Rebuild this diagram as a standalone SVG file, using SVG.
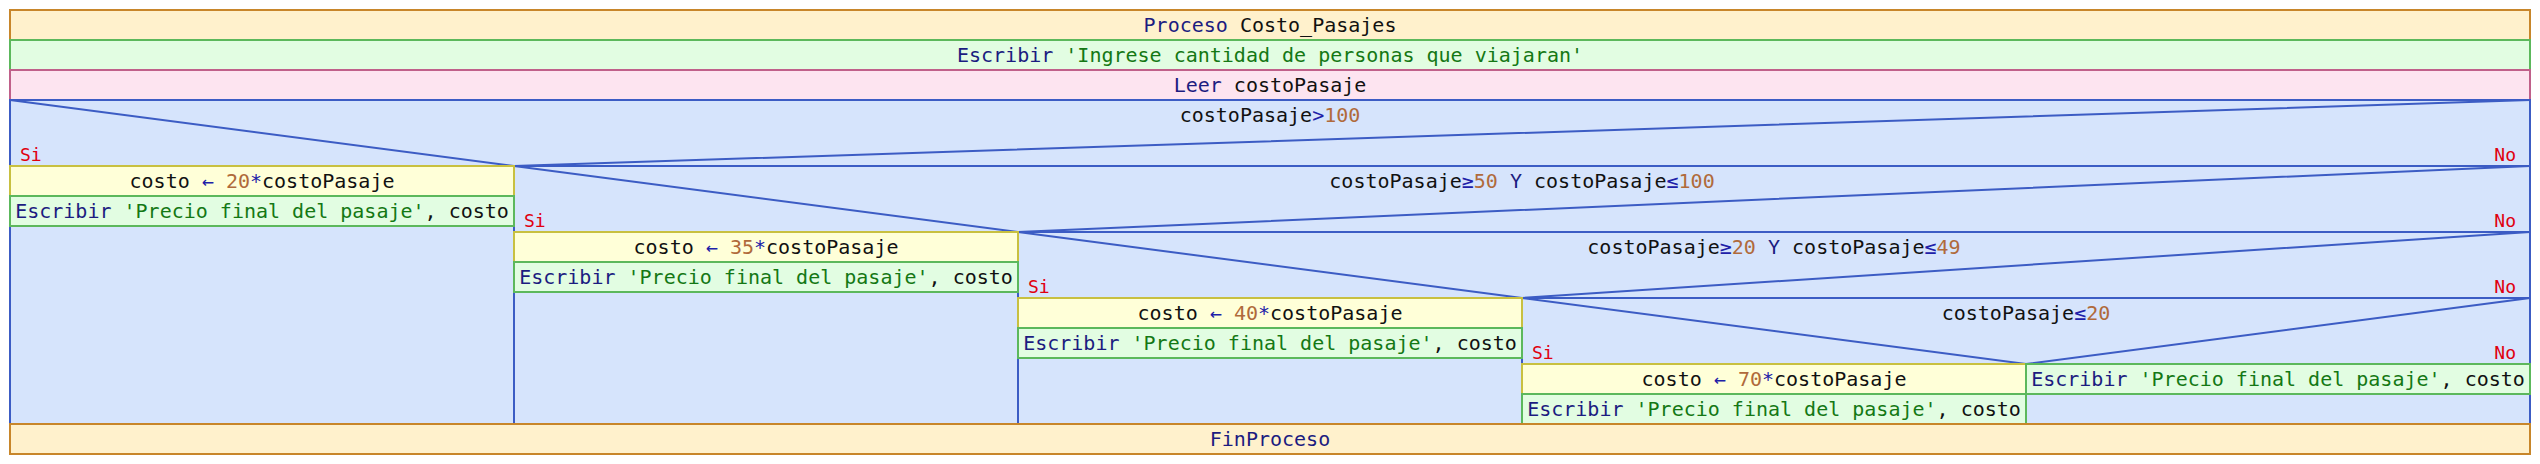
<svg xmlns="http://www.w3.org/2000/svg" width="2540" height="464" viewBox="0 0 2540 464">
<style>
text{font-family:"DejaVu Sans Mono","Liberation Mono",monospace;font-size:20px;fill:#111111}
.c{text-anchor:middle}
.e{text-anchor:end}
.kw{fill:#1c1c80}
.str{fill:#147814}
.num{fill:#b06a3b}
.op{fill:#2020a8}
.lbl{font-size:18px;fill:#e00010}
.proc{fill:#fff1cc;stroke:#c8862a;stroke-width:2}
.out{fill:#e2fde2;stroke:#5cb85c;stroke-width:2}
.in{fill:#fde4f0;stroke:#c0608a;stroke-width:2}
.cond{fill:#d6e4fc;stroke:#3c5cc4;stroke-width:2}
.asg{fill:#ffffd8;stroke:#c8c040;stroke-width:2}
.ln{stroke:#3c5cc4;stroke-width:2;fill:none}
</style>
<g id="proceso">
<rect class="proc" x="10" y="10" width="2520" height="30"/>
<text class="c" x="1270" y="32"><tspan class="kw">Proceso</tspan> Costo_Pasajes</text>
</g>
<g id="escribir1">
<rect class="out" x="10" y="40" width="2520" height="30"/>
<text class="c" x="1270" y="62"><tspan class="kw">Escribir</tspan> <tspan class="str">'Ingrese cantidad de personas que viajaran'</tspan></text>
</g>
<g id="leer">
<rect class="in" x="10" y="70" width="2520" height="30"/>
<text class="c" x="1270" y="92"><tspan class="kw">Leer</tspan> costoPasaje</text>
</g>
<g id="si1">
<rect class="cond" x="10" y="100" width="2520" height="324"/>
</g>
<g id="connectors">
<path class="ln" d="M10,100 L514,166 L2530,100 M514,166 H2530 M514,166 V424"/>
<path class="ln" d="M514,166 L1018,232 L2530,166 M1018,232 H2530 M1018,232 V424"/>
<path class="ln" d="M1018,232 L1522,298 L2530,232 M1522,298 H2530 M1522,298 V424"/>
<path class="ln" d="M1522,298 L2026,364 L2530,298 M2026,364 V424"/>
</g>
<g id="cond1-label">
<text class="c" x="1270" y="122">costoPasaje<tspan class="op">&gt;</tspan><tspan class="num">100</tspan></text>
<text class="lbl" x="20" y="161">Si</text>
<text class="lbl e" x="2516" y="161">No</text>
</g>
<g id="cond2-label">
<text class="c" x="1522" y="188">costoPasaje<tspan class="op">≥</tspan><tspan class="num">50</tspan> <tspan class="kw">Y</tspan> costoPasaje<tspan class="op">≤</tspan><tspan class="num">100</tspan></text>
<text class="lbl" x="524" y="227">Si</text>
<text class="lbl e" x="2516" y="227">No</text>
</g>
<g id="cond3-label">
<text class="c" x="1774" y="254">costoPasaje<tspan class="op">≥</tspan><tspan class="num">20</tspan> <tspan class="kw">Y</tspan> costoPasaje<tspan class="op">≤</tspan><tspan class="num">49</tspan></text>
<text class="lbl" x="1028" y="293">Si</text>
<text class="lbl e" x="2516" y="293">No</text>
</g>
<g id="cond4-label">
<text class="c" x="2026" y="320">costoPasaje<tspan class="op">≤</tspan><tspan class="num">20</tspan></text>
<text class="lbl" x="1532" y="359">Si</text>
<text class="lbl e" x="2516" y="359">No</text>
</g>
<g id="asig1">
<rect class="asg" x="10" y="166" width="504" height="30"/>
<text class="c" x="262" y="188">costo <tspan class="op">←</tspan> <tspan class="num">20</tspan><tspan class="op">*</tspan>costoPasaje</text>
</g>
<g id="escribir2">
<rect class="out" x="10" y="196" width="504" height="30"/>
<text class="c" x="262" y="218"><tspan class="kw">Escribir</tspan> <tspan class="str">'Precio final del pasaje'</tspan>, costo</text>
</g>
<g id="asig2">
<rect class="asg" x="514" y="232" width="504" height="30"/>
<text class="c" x="766" y="254">costo <tspan class="op">←</tspan> <tspan class="num">35</tspan><tspan class="op">*</tspan>costoPasaje</text>
</g>
<g id="escribir3">
<rect class="out" x="514" y="262" width="504" height="30"/>
<text class="c" x="766" y="284"><tspan class="kw">Escribir</tspan> <tspan class="str">'Precio final del pasaje'</tspan>, costo</text>
</g>
<g id="asig3">
<rect class="asg" x="1018" y="298" width="504" height="30"/>
<text class="c" x="1270" y="320">costo <tspan class="op">←</tspan> <tspan class="num">40</tspan><tspan class="op">*</tspan>costoPasaje</text>
</g>
<g id="escribir4">
<rect class="out" x="1018" y="328" width="504" height="30"/>
<text class="c" x="1270" y="350"><tspan class="kw">Escribir</tspan> <tspan class="str">'Precio final del pasaje'</tspan>, costo</text>
</g>
<g id="asig4">
<rect class="asg" x="1522" y="364" width="504" height="30"/>
<text class="c" x="1774" y="386">costo <tspan class="op">←</tspan> <tspan class="num">70</tspan><tspan class="op">*</tspan>costoPasaje</text>
</g>
<g id="escribir5">
<rect class="out" x="1522" y="394" width="504" height="30"/>
<text class="c" x="1774" y="416"><tspan class="kw">Escribir</tspan> <tspan class="str">'Precio final del pasaje'</tspan>, costo</text>
</g>
<g id="escribir6">
<rect class="out" x="2026" y="364" width="504" height="30"/>
<text class="c" x="2278" y="386"><tspan class="kw">Escribir</tspan> <tspan class="str">'Precio final del pasaje'</tspan>, costo</text>
</g>
<g id="finproceso">
<rect class="proc" x="10" y="424" width="2520" height="30"/>
<text class="c" x="1270" y="446"><tspan class="kw">FinProceso</tspan></text>
</g>
</svg>
